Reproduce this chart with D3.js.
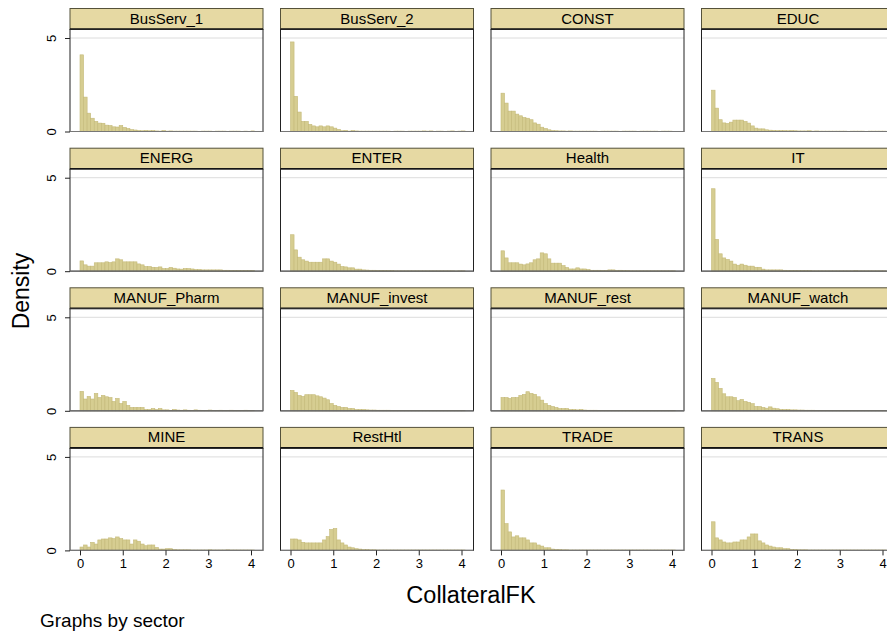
<!DOCTYPE html>
<html>
<head>
<meta charset="utf-8">
<script src="https://cdn.jsdelivr.net/npm/d3@7"></script>
<style>
  html, body { margin: 0; padding: 0; background: #fff; }
  svg { display: block; font-family: "Liberation Sans", Arial, sans-serif; }
</style>
</head>
<body>
<svg id="chart" width="887" height="633"></svg>
<script>
// Histograms of CollateralFK, one panel per sector (density scale)
const sectors = [
  "BusServ_1", "BusServ_2", "CONST", "EDUC",
  "ENERG", "ENTER", "Health", "IT",
  "MANUF_Pharm", "MANUF_invest", "MANUF_rest", "MANUF_watch",
  "MINE", "RestHtl", "TRADE", "TRANS"
];

const binStart = 0;
const binWidth = 1 / 12;

const xTicks = [0, 1, 2, 3, 4];
const yTicks = [0, 5];

// density per bin, per sector
const busServ1 = [4.10,1.84,0.98,0.71,0.54,0.45,0.44,0.34,0.32,0.25,0.24,0.32,0.22,0.16,0.10,0.08,0.05,0.04,0.06,0.04,0.05,0.03,0.02,0.05,0.02,0.03,0.02,0.02,0.02,0.02,0.02,0.02,0.02,0.01,0.02,0.02,0.02,0.01,0.02,0.02,0.02,0.01,0.02,0.02,0.02,0.01,0.02,0.00,0.03,0.00];
const busServ2 = [4.79,1.88,1.04,0.54,0.54,0.38,0.30,0.25,0.30,0.25,0.30,0.25,0.18,0.11,0.04,0.06,0.02,0.05,0.03,0.02,0.02,0.02,0.02,0.02,0.02,0.02,0.02,0.02,0.01,0.02,0.02,0.02,0.01,0.02,0.02,0.02,0.02,0.03,0.02,0.03,0.01,0.02,0.02,0.01,0.02,0.03,0.01,0.02,0.03,0.00];
const construct = [2.05,1.52,1.09,1.09,0.93,0.84,0.75,0.71,0.63,0.46,0.39,0.23,0.16,0.09,0.05,0.04,0.03,0.03,0.02,0.03,0.02,0.02,0.02,0.02,0.02,0.02,0.02,0.01,0.02,0.02,0.02,0.02,0.02,0.01,0.02,0.02,0.02,0.02,0.01,0.02,0.02,0.02,0.02,0.02,0.01,0.02,0.02,0.02,0.01,0.00];
const educ = [2.21,1.25,0.63,0.46,0.43,0.50,0.61,0.61,0.61,0.54,0.45,0.30,0.18,0.14,0.14,0.09,0.07,0.06,0.05,0.05,0.05,0.04,0.05,0.04,0.03,0.03,0.03,0.04,0.02,0.03,0.02,0.02,0.02,0.02,0.02,0.02,0.02,0.02,0.01,0.02,0.02,0.02,0.02,0.01,0.02,0.02,0.02,0.02,0.02,0.00];
const energ = [0.55,0.34,0.27,0.27,0.45,0.45,0.45,0.50,0.46,0.50,0.66,0.61,0.50,0.50,0.50,0.50,0.39,0.34,0.25,0.25,0.21,0.20,0.23,0.14,0.14,0.20,0.16,0.12,0.11,0.14,0.14,0.12,0.09,0.09,0.07,0.07,0.07,0.07,0.07,0.07,0.05,0.05,0.04,0.04,0.04,0.03,0.03,0.03,0.03,0.00];
const enter = [1.95,1.14,0.75,0.61,0.54,0.48,0.48,0.48,0.48,0.66,0.66,0.54,0.48,0.38,0.25,0.23,0.18,0.18,0.11,0.11,0.07,0.06,0.05,0.05,0.04,0.04,0.03,0.03,0.03,0.02,0.02,0.02,0.02,0.02,0.02,0.02,0.02,0.02,0.02,0.02,0.02,0.02,0.02,0.02,0.02,0.02,0.01,0.02,0.02,0.00];
const health = [1.09,0.71,0.45,0.45,0.45,0.38,0.34,0.39,0.45,0.61,0.66,0.98,0.93,0.66,0.43,0.43,0.43,0.30,0.20,0.12,0.12,0.18,0.12,0.12,0.09,0.05,0.05,0.05,0.04,0.04,0.07,0.07,0.03,0.05,0.03,0.03,0.02,0.02,0.02,0.02,0.02,0.02,0.02,0.02,0.02,0.02,0.02,0.02,0.02,0.00];
const it = [4.41,1.70,0.93,0.71,0.63,0.54,0.38,0.32,0.38,0.32,0.27,0.27,0.21,0.21,0.11,0.07,0.07,0.07,0.07,0.07,0.05,0.04,0.04,0.04,0.03,0.03,0.03,0.03,0.02,0.02,0.02,0.02,0.02,0.02,0.02,0.02,0.02,0.02,0.02,0.02,0.03,0.02,0.02,0.02,0.02,0.02,0.02,0.02,0.02,0.00];
const manufPharm = [1.04,0.63,0.77,0.63,0.93,0.71,0.82,0.75,0.71,0.50,0.66,0.39,0.50,0.29,0.18,0.18,0.18,0.18,0.07,0.07,0.12,0.07,0.12,0.05,0.05,0.02,0.07,0.04,0.03,0.05,0.03,0.02,0.05,0.03,0.02,0.02,0.04,0.02,0.02,0.03,0.02,0.02,0.03,0.02,0.02,0.02,0.03,0.02,0.02,0.00];
const manufInvest = [1.09,0.98,0.82,0.77,0.86,0.86,0.86,0.80,0.75,0.68,0.59,0.39,0.29,0.23,0.18,0.18,0.12,0.12,0.07,0.07,0.07,0.05,0.04,0.04,0.03,0.03,0.03,0.03,0.02,0.02,0.02,0.02,0.02,0.02,0.02,0.02,0.02,0.02,0.02,0.02,0.02,0.02,0.02,0.02,0.02,0.02,0.02,0.02,0.02,0.00];
const manufRest = [0.71,0.71,0.66,0.71,0.71,0.82,0.88,1.02,0.93,0.88,0.75,0.57,0.39,0.29,0.23,0.18,0.12,0.12,0.12,0.07,0.07,0.05,0.07,0.04,0.03,0.03,0.03,0.02,0.02,0.02,0.02,0.02,0.02,0.02,0.02,0.02,0.02,0.02,0.02,0.02,0.02,0.02,0.02,0.02,0.02,0.02,0.02,0.02,0.02,0.00];
const manufWatch = [1.73,1.52,1.20,0.91,0.75,0.75,0.71,0.54,0.61,0.50,0.45,0.38,0.23,0.23,0.18,0.14,0.21,0.14,0.11,0.07,0.07,0.07,0.05,0.05,0.04,0.04,0.03,0.03,0.03,0.02,0.02,0.02,0.02,0.02,0.02,0.02,0.02,0.02,0.02,0.02,0.02,0.02,0.02,0.02,0.02,0.02,0.02,0.02,0.02,0.00];
const mine = [0.18,0.29,0.18,0.43,0.34,0.56,0.61,0.61,0.67,0.63,0.72,0.63,0.56,0.56,0.34,0.56,0.49,0.34,0.25,0.29,0.29,0.16,0.07,0.07,0.09,0.09,0.04,0.03,0.03,0.03,0.03,0.02,0.02,0.02,0.02,0.02,0.03,0.02,0.02,0.02,0.02,0.03,0.02,0.02,0.02,0.02,0.02,0.02,0.02,0.00];
const restHtl = [0.61,0.61,0.56,0.43,0.40,0.40,0.40,0.40,0.40,0.56,0.74,1.12,1.17,0.56,0.40,0.29,0.18,0.14,0.09,0.07,0.04,0.04,0.03,0.03,0.02,0.02,0.02,0.02,0.02,0.02,0.02,0.02,0.02,0.02,0.02,0.02,0.02,0.02,0.02,0.02,0.02,0.02,0.02,0.02,0.02,0.02,0.02,0.02,0.02,0.00];
const trade = [3.23,1.43,0.99,0.72,0.78,0.67,0.67,0.56,0.40,0.40,0.29,0.23,0.14,0.14,0.07,0.05,0.04,0.03,0.03,0.02,0.02,0.02,0.02,0.02,0.02,0.02,0.02,0.02,0.02,0.02,0.02,0.02,0.02,0.02,0.02,0.02,0.02,0.02,0.02,0.02,0.02,0.02,0.02,0.02,0.02,0.02,0.02,0.02,0.02,0.00];
const trans = [1.53,0.67,0.56,0.45,0.40,0.40,0.45,0.45,0.56,0.56,0.72,0.88,0.88,0.51,0.40,0.29,0.23,0.18,0.14,0.14,0.09,0.09,0.05,0.04,0.03,0.03,0.03,0.02,0.02,0.02,0.02,0.02,0.02,0.02,0.02,0.02,0.02,0.02,0.02,0.02,0.02,0.02,0.02,0.02,0.02,0.02,0.02,0.02,0.02,0.00];

const densities = [
  busServ1, busServ2, construct, educ,
  energ, enter, health, it,
  manufPharm, manufInvest, manufRest, manufWatch,
  mine, restHtl, trade, trans
];

// layout
const nCols = 4;
const panelW = 193, plotH = 102, stripH = 21;
const colLeft = [70, 280.5, 491, 701.5];
const rowBase = [131.5, 271.2, 410.8, 550.4];

const barFill = "#d6cd91", barEdge = "#c4b978";
const stripFill = "#e6d9a3";

const x = d3.scaleLinear().domain([-10 / 42.75, (panelW - 10) / 42.75]).range([0, panelW]);
const y = d3.scaleLinear().domain([0, 5.455]).range([plotH, 0]);

const svg = d3.select("#chart");

sectors.forEach((name, i) => {
  const col = i % nCols, row = Math.floor(i / nCols);
  const top = rowBase[row] - plotH;
  const g = svg.append("g").attr("transform", `translate(${colLeft[col]},${top})`);

  // strip with sector name
  g.append("rect")
    .attr("x", 0).attr("y", -stripH)
    .attr("width", panelW).attr("height", stripH)
    .attr("fill", stripFill).attr("stroke", "#55523a").attr("stroke-width", 1);
  g.append("line")
    .attr("x1", 0).attr("x2", panelW).attr("y1", -0.5).attr("y2", -0.5)
    .attr("stroke", "#111").attr("stroke-width", 1.6);
  g.append("text")
    .attr("x", panelW / 2).attr("y", -6)
    .attr("text-anchor", "middle")
    .attr("font-size", 15).attr("fill", "#000")
    .text(name);

  // plot region
  g.append("rect")
    .attr("x", 0).attr("y", 0).attr("width", panelW).attr("height", plotH)
    .attr("fill", "#fff");

  // gridline at 5
  g.append("line")
    .attr("x1", 0).attr("x2", panelW).attr("y1", y(5)).attr("y2", y(5))
    .attr("stroke", "#dcdcdc").attr("stroke-width", 1);

  // histogram bars
  const bins = densities[i].map((v, k) => ({
    x0: binStart + k * binWidth,
    x1: binStart + (k + 1) * binWidth,
    v
  })).filter(d => d.v > 0);

  g.selectAll("rect.bar").data(bins).join("rect")
    .attr("class", "bar")
    .attr("x", d => x(d.x0))
    .attr("width", d => x(d.x1) - x(d.x0))
    .attr("y", d => y(d.v))
    .attr("height", d => y(0) - y(d.v))
    .attr("fill", barFill)
    .attr("stroke", barEdge)
    .attr("stroke-width", 0.6);

  // plot border
  g.append("rect")
    .attr("x", 0).attr("y", 0).attr("width", panelW).attr("height", plotH)
    .attr("fill", "none").attr("stroke", "#222").attr("stroke-width", 1);
  g.append("line")
    .attr("x1", 0).attr("x2", panelW).attr("y1", plotH).attr("y2", plotH)
    .attr("stroke", "#777").attr("stroke-width", 1.2);

  // y axis on first column
  if (col === 0) {
    const ya = g.append("g")
      .call(d3.axisLeft(y).tickValues(yTicks).tickSize(5).tickFormat(d3.format("d")));
    ya.select(".domain").remove();
    ya.selectAll(".tick line").attr("stroke", "#222");
    ya.selectAll(".tick text")
      .attr("font-size", 13).attr("fill", "#000")
      .attr("font-family", "Liberation Sans, Arial, sans-serif")
      .attr("x", null).attr("dy", null)
      .attr("transform", "translate(-19,0) rotate(-90)")
      .attr("text-anchor", "middle")
      .attr("dominant-baseline", "central");
  }

  // x axis on bottom row
  if (row === 3) {
    const xa = g.append("g")
      .attr("transform", `translate(0,${plotH})`)
      .call(d3.axisBottom(x).tickValues(xTicks).tickSize(5).tickFormat(d3.format("d")));
    xa.select(".domain").remove();
    xa.selectAll(".tick line").attr("stroke", "#222");
    xa.selectAll(".tick text")
      .attr("font-size", 13).attr("fill", "#000")
      .attr("font-family", "Liberation Sans, Arial, sans-serif")
      .attr("y", 8.5);
  }
});

// axis titles and note
svg.append("text")
  .attr("transform", "translate(29,291) rotate(-90)")
  .attr("text-anchor", "middle")
  .attr("font-size", 23).attr("fill", "#000")
  .text("Density");

svg.append("text")
  .attr("x", 471).attr("y", 603)
  .attr("text-anchor", "middle")
  .attr("font-size", 23.5).attr("fill", "#000")
  .text("CollateralFK");

svg.append("text")
  .attr("x", 40).attr("y", 627)
  .attr("font-size", 19).attr("fill", "#000")
  .text("Graphs by sector");
</script>
</body>
</html>
